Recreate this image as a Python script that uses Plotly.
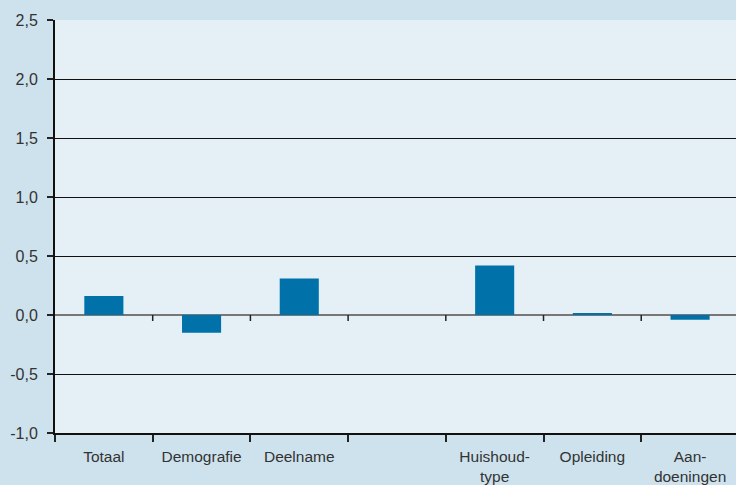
import plotly.graph_objects as go

# Categories (empty slot kept as a gap between groups) and effect sizes
categories = ["Totaal", "Demografie", "Deelname", " ", "Huishoud-<br>type", "Opleiding", "Aan-<br>doeningen"]
values = [0.16, -0.15, 0.31, None, 0.42, 0.01, -0.04]
y_ticks = [-1.0, -0.5, 0.0, 0.5, 1.0, 1.5, 2.0, 2.5]
y_tick_labels = ["-1,0", "-0,5", "0,0", "0,5", "1,0", "1,5", "2,0", "2,5"]

BAR_COLOR = "#0072a9"
PLOT_BG = "#e4eff6"
PAPER_BG = "#cde2ed"
TEXT = "#333333"
FONT = "Liberation Sans, Arial, sans-serif"

fig = go.Figure()
fig.add_trace(go.Bar(
    x=categories,
    y=values,
    width=0.4,
    marker=dict(color=BAR_COLOR, line=dict(width=0)),
    hoverinfo="skip",
))

# small downward ticks on the zero line at the category boundaries
for i in range(1, len(categories)):
    fig.add_shape(
        type="line", xref="x", yref="y",
        x0=i - 0.5, x1=i - 0.5,
        ysizemode="pixel", yanchor=0, y0=0, y1=-6,
        line=dict(color="#222222", width=1.5),
        layer="above",
    )

fig.update_layout(
    width=736, height=485,
    margin=dict(l=55, r=0, t=20, b=50),
    paper_bgcolor=PAPER_BG,
    plot_bgcolor=PLOT_BG,
    showlegend=False,
    font=dict(family=FONT, size=15, color=TEXT),
)

fig.update_xaxes(
    type="category",
    categoryarray=categories,
    range=[-0.5, len(categories) - 0.53],
    tickson="boundaries",
    ticks="outside", ticklen=7, tickwidth=1.5, tickcolor="#222222",
    ticklabelstandoff=8,
    showline=True, linecolor="#111111", linewidth=2,
    showgrid=False,
    tickfont=dict(size=15.5, color=TEXT),
    fixedrange=True,
)

fig.update_yaxes(
    range=[-1.0, 2.5],
    tickvals=y_ticks,
    ticktext=y_tick_labels,
    ticks="outside", ticklen=6, tickwidth=1.5, tickcolor="#222222",
    ticklabelstandoff=6,
    showline=True, linecolor="#111111", linewidth=2,
    showgrid=True, gridcolor="#111111", gridwidth=1.2,
    zeroline=True, zerolinecolor="#777777", zerolinewidth=2,
    tickfont=dict(size=16, color=TEXT),
    fixedrange=True,
)

fig.write_html("out.html")
